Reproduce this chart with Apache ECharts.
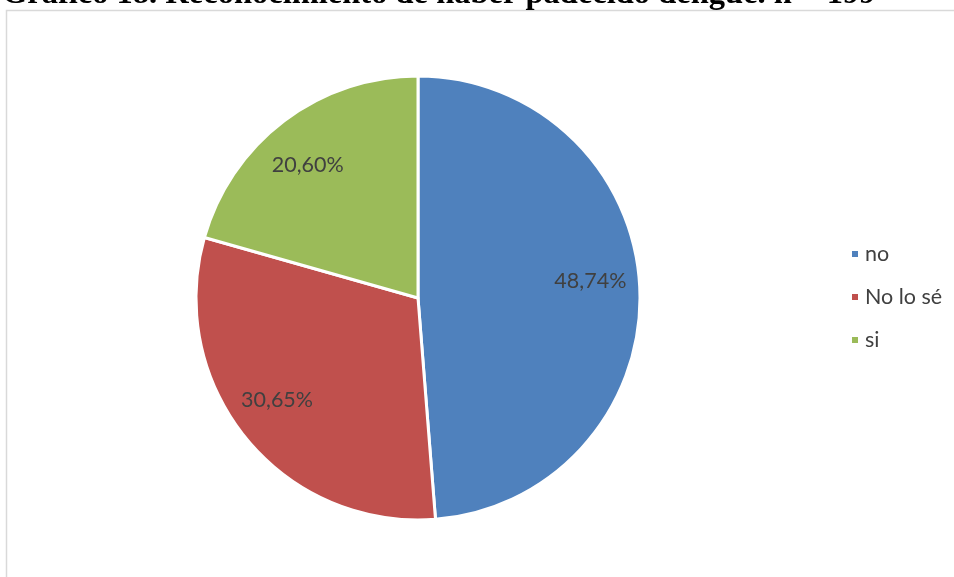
<!DOCTYPE html>
<html>
<head>
<meta charset="utf-8">
<script src="https://cdn.jsdelivr.net/npm/echarts@6/dist/echarts.min.js"></script>
<style>html,body{margin:0;padding:0;background:#fff}#c{width:954px;height:577px}</style>
</head>
<body>
<div id="c"></div>
<script>
var categories = ['no', 'No lo sé', 'si'];
var counts = [97, 61, 41];
var colors = ['#4F81BD', '#C0504D', '#9BBB59'];
var titleText = 'Gráfico 18. Reconocimiento de haber padecido dengue. n = 199';

// label nudges (layout only)
var labelNudge = [[-2, -10], [-6, -9], [-5, 6]];

var total = counts.reduce(function (a, b) { return a + b; }, 0);
var data = categories.map(function (c, i) {
  return { name: c, value: counts[i], itemStyle: { color: colors[i] } };
});
function pct(v) { return (v / total * 100).toFixed(2).replace('.', ',') + '%'; }

var chart = echarts.init(document.getElementById('c'));
chart.setOption({
  animation: false,
  title: {
    text: titleText, left: -3, top: -27,
    textStyle: { fontFamily: 'Liberation Serif', fontWeight: 'bold', fontSize: 32.5, color: '#000' }
  },
  graphic: [{
    type: 'rect', shape: { x: 6.5, y: 10.5, width: 1000, height: 600 },
    style: { fill: 'none', stroke: '#d9d9d9', lineWidth: 1.5 }, silent: true, z: -1
  }],
  legend: {
    orient: 'vertical', left: 845, top: 238, itemGap: 21,
    icon: 'rect', itemWidth: 8, itemHeight: 8,
    textStyle: { fontFamily: 'Lato', fontSize: 21.5, color: '#404040', padding: [0, 0, 0, 1] },
    data: categories
  },
  series: [{
    type: 'pie', center: [418, 298], radius: [0, 222],
    startAngle: 90, clockwise: true,
    itemStyle: { borderColor: '#fff', borderWidth: 3 },
    label: { show: false }, labelLine: { show: false },
    data: data
  }, {
    type: 'pie', center: [418, 298], radius: [121, 222],
    startAngle: 90, clockwise: true, silent: true,
    itemStyle: { color: 'transparent', borderWidth: 0 },
    label: {
      show: true, position: 'inside', fontFamily: 'Lato', fontSize: 21.5, color: '#404040',
      formatter: function (p) { return pct(p.value); }
    },
    labelLine: { show: false },
    legendHoverLink: false,
    data: categories.map(function (c, i) {
      return { name: c + ' ', value: counts[i], label: { offset: labelNudge[i] } };
    })
  }]
});
</script>
</body>
</html>
